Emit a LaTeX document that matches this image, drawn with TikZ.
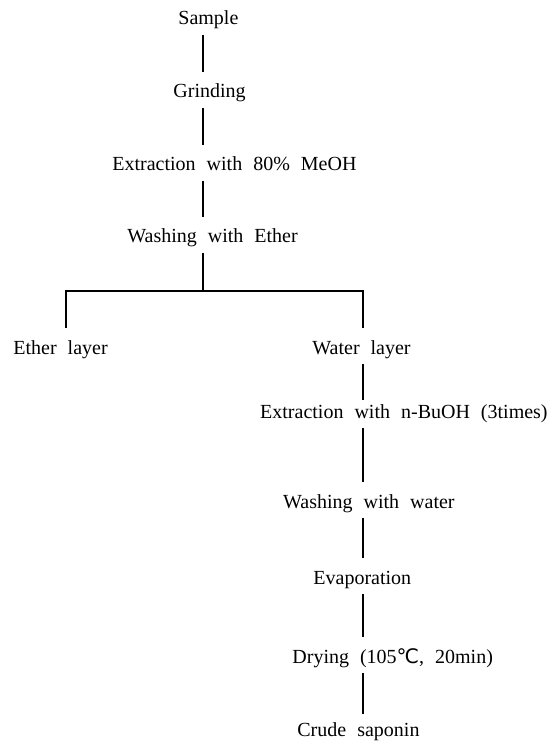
\documentclass[tikz,border=0pt]{standalone}
\usepackage{fontspec}
\setmainfont{Liberation Serif}
\newfontfamily\degreefont{DejaVu Sans}
\newcommand\flowfont{\fontsize{10}{12}\selectfont\spaceskip=5.5pt plus 1pt\relax}
\begin{document}
\begin{tikzpicture}[x=0.5pt, y=-0.5pt,
      every node/.style={anchor=base west, inner sep=0pt, text height=7pt, text depth=2pt,
        font=\flowfont},
      link/.style={line width=1pt, shorten <=3pt, shorten >=6pt}]
    \useasboundingbox (0,0) rectangle (553,742);
    \coordinate (stem) at (203,291);
    \coordinate (etherdrop) at (66,291);
    \coordinate (waterdrop) at (363,291);
    \node (sample) at (178,25) {Sample};
    \node (grinding) at (173,98) {Grinding};
    \node (methanol) at (112,171) {Extraction with 80\% MeOH};
    \node (etherwash) at (127,243) {Washing with Ether};
    \node (etherlayer) at (13,354) {Ether layer};
    \node (waterlayer) at (312,354) {Water layer};
    \node[anchor=base east] (butanol) at (548,418) {Extraction with n-BuOH (3times)};
    \node[anchor=base east] (waterwash) at (455,508) {Washing with water};
    \node (evaporation) at (313,584) {Evaporation};
    \node (drying) at (292,663) {Drying (105{\degreefont ℃}, 20min)};
    \node (saponin) at (297,736) {Crude saponin};
    \draw[link] (sample.south -| stem) -- (grinding.north -| stem);
    \draw[link] (grinding.south -| stem) -- (methanol.north -| stem);
    \draw[link] (methanol.south -| stem) -- (etherwash.north -| stem);
    \draw[link, shorten >=0pt] (etherwash.south -| stem) -- (stem);
    \draw[link, shorten <=6pt] (etherlayer.north -| etherdrop) -- (etherdrop)
        -- (waterdrop) -- (waterlayer.north -| waterdrop);
    \draw[link, shorten >=2pt] (waterlayer.south -| waterdrop) -- (butanol.north -| waterdrop);
    \draw[link] (butanol.south -| waterdrop) -- (waterwash.north -| waterdrop);
    \draw[link] (waterwash.south -| waterdrop) -- (evaporation.north -| waterdrop);
    \draw[link] (evaporation.south -| waterdrop) -- (drying.north -| waterdrop);
    \draw[link, shorten >=4pt] (drying.south -| waterdrop) -- (saponin.north -| waterdrop);
\end{tikzpicture}
\end{document}
